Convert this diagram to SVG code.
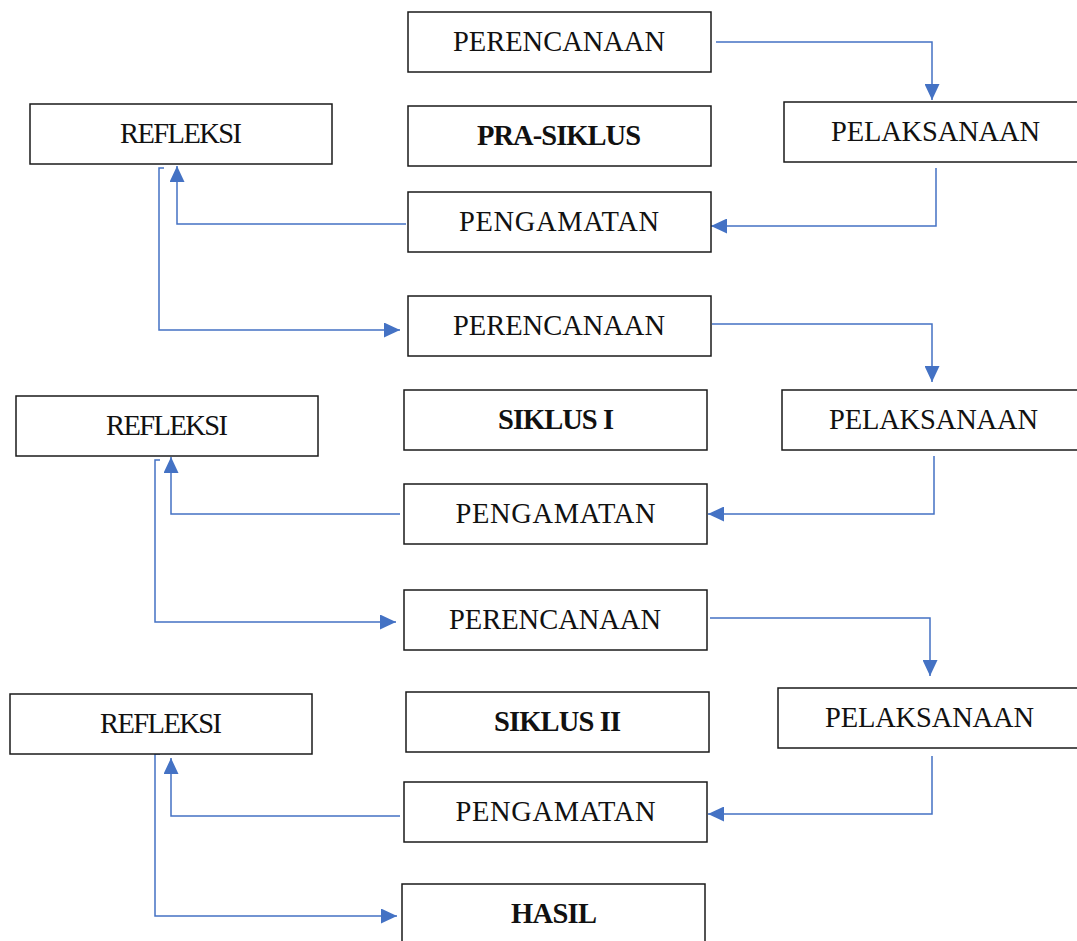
<svg xmlns="http://www.w3.org/2000/svg" width="1077" height="941" viewBox="0 0 1077 941">
<style>
.b{fill:#fff;stroke:#1a1a1a;stroke-width:1.5}
.t{font-family:"Liberation Serif","Times New Roman",serif;font-size:28.5px;fill:#111;text-anchor:middle}
.bd{font-weight:bold}
.c{fill:none;stroke:#4472C4;stroke-width:1.5}
</style>
<defs>
<marker id="a" markerUnits="userSpaceOnUse" markerWidth="16" markerHeight="15" refX="16" refY="7.5" orient="auto">
<path d="M0,0 L16,7.5 L0,15 z" fill="#4472C4"/>
</marker>
</defs>
<g id="connectors">
<path class="c" d="M716,42 H932 V100" marker-end="url(#a)"/>
<path class="c" d="M936,168 V226 H711" marker-end="url(#a)"/>
<path class="c" d="M406,224 H177 V166" marker-end="url(#a)"/>
<path class="c" d="M164,168 H159 V330 H400" marker-end="url(#a)"/>
<path class="c" d="M712,324 H932 V382" marker-end="url(#a)"/>
<path class="c" d="M934,456 V514 H708" marker-end="url(#a)"/>
<path class="c" d="M400,514 H171 V457" marker-end="url(#a)"/>
<path class="c" d="M160,460 H155 V622 H396" marker-end="url(#a)"/>
<path class="c" d="M710,618 H930 V676" marker-end="url(#a)"/>
<path class="c" d="M932,756 V814 H708" marker-end="url(#a)"/>
<path class="c" d="M400,816 H171 V758" marker-end="url(#a)"/>
<path class="c" d="M160,754 H155 V916 H397" marker-end="url(#a)"/>
</g>
<g id="perencanaan1"><rect class="b" x="408" y="12" width="303" height="60"/><text class="t" x="559" y="51" textLength="212">PERENCANAAN</text></g>
<g id="refleksi1"><rect class="b" x="30" y="104" width="302" height="60"/><text class="t" x="181" y="143" textLength="122">REFLEKSI</text></g>
<g id="prasiklus"><rect class="b" x="408" y="106" width="303" height="60"/><text class="t bd" x="559" y="145" textLength="164">PRA-SIKLUS</text></g>
<g id="pelaksanaan1"><rect class="b" x="784" y="102" width="300" height="60"/><text class="t" x="935.5" y="141" textLength="209">PELAKSANAAN</text></g>
<g id="pengamatan1"><rect class="b" x="408" y="192" width="303" height="60"/><text class="t" x="559" y="231" textLength="200">PENGAMATAN</text></g>
<g id="perencanaan2"><rect class="b" x="408" y="296" width="303" height="60"/><text class="t" x="559" y="335" textLength="212">PERENCANAAN</text></g>
<g id="refleksi2"><rect class="b" x="16" y="396" width="302" height="60"/><text class="t" x="167" y="435" textLength="122">REFLEKSI</text></g>
<g id="siklus1"><rect class="b" x="404" y="390" width="303" height="60"/><text class="t bd" x="556" y="429" textLength="116">SIKLUS I</text></g>
<g id="pelaksanaan2"><rect class="b" x="782" y="390" width="300" height="60"/><text class="t" x="933.5" y="429" textLength="209">PELAKSANAAN</text></g>
<g id="pengamatan2"><rect class="b" x="404" y="484" width="303" height="60"/><text class="t" x="555.5" y="523" textLength="200">PENGAMATAN</text></g>
<g id="perencanaan3"><rect class="b" x="404" y="590" width="303" height="60"/><text class="t" x="555" y="629" textLength="212">PERENCANAAN</text></g>
<g id="refleksi3"><rect class="b" x="10" y="694" width="302" height="60"/><text class="t" x="161" y="733" textLength="122">REFLEKSI</text></g>
<g id="siklus2"><rect class="b" x="406" y="692" width="303" height="60"/><text class="t bd" x="557.5" y="731" textLength="127">SIKLUS II</text></g>
<g id="pelaksanaan3"><rect class="b" x="778" y="688" width="304" height="60"/><text class="t" x="929.5" y="727" textLength="209">PELAKSANAAN</text></g>
<g id="pengamatan3"><rect class="b" x="404" y="782" width="303" height="60"/><text class="t" x="555.5" y="821" textLength="200">PENGAMATAN</text></g>
<g id="hasil"><rect class="b" x="402" y="884" width="303" height="70"/><text class="t bd" x="554" y="923" textLength="86">HASIL</text></g>
</svg>
